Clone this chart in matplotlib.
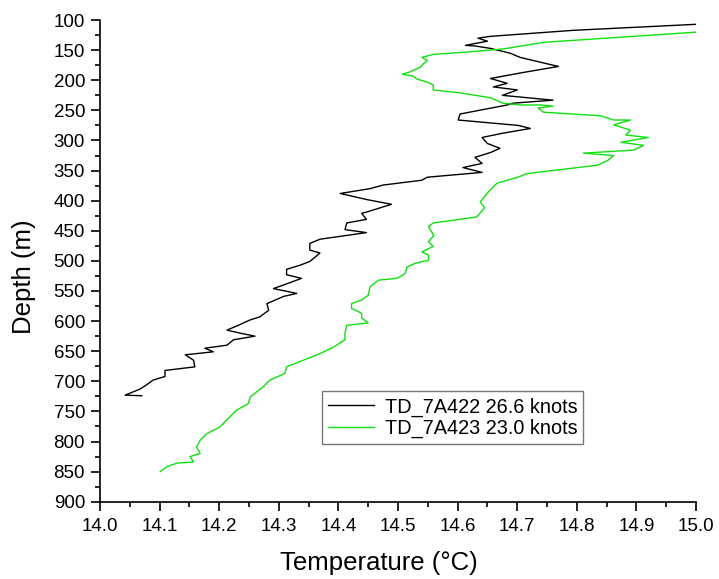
import numpy as np
import matplotlib.pyplot as plt
from matplotlib.ticker import MultipleLocator

plt.rcParams['font.family'] = ['Liberation Sans', 'DejaVu Sans']

# TD_7A422 profile (temperature degC, depth m)
temp_422 = [15.00, 14.794, 14.655, 14.634, 14.650, 14.613, 14.629, 14.655, 14.688, 14.705,
            14.739, 14.769, 14.710, 14.655, 14.683, 14.660, 14.700, 14.675, 14.760, 14.693,
            14.683, 14.604, 14.601, 14.702, 14.722, 14.675, 14.641, 14.650, 14.671, 14.655,
            14.629, 14.641, 14.609, 14.641, 14.549, 14.540, 14.475, 14.453, 14.403, 14.447,
            14.489, 14.450, 14.439, 14.447, 14.414, 14.411, 14.447, 14.369, 14.352, 14.352,
            14.369, 14.352, 14.336, 14.313, 14.313, 14.338, 14.308, 14.291, 14.330, 14.308,
            14.280, 14.283, 14.268, 14.252, 14.232, 14.213, 14.235, 14.260, 14.224, 14.213,
            14.176, 14.190, 14.143, 14.157, 14.159, 14.109, 14.109, 14.089, 14.078, 14.067,
            14.042, 14.070]
depth_422 = [107, 117, 127, 130, 135, 142, 143, 147, 155, 162,
             170, 177, 187, 197, 205, 211, 216, 225, 233, 238,
             241, 256, 266, 275, 280, 288, 295, 305, 313, 320,
             328, 338, 345, 353, 361, 366, 374, 380, 388, 398,
             406, 418, 421, 431, 437, 448, 453, 464, 471, 482,
             487, 501, 507, 514, 523, 529, 540, 546, 554, 559,
             571, 582, 593, 598, 607, 615, 620, 625, 631, 640,
             645, 651, 656, 665, 676, 682, 692, 698, 706, 713,
             723, 724]

# TD_7A423 profile
temp_423 = [15.00, 14.744, 14.676, 14.616, 14.559, 14.540, 14.549, 14.542, 14.538, 14.520,
            14.507, 14.525, 14.532, 14.549, 14.559, 14.559, 14.605, 14.655, 14.676, 14.705,
            14.739, 14.760, 14.735, 14.744, 14.840, 14.862, 14.890, 14.862, 14.890, 14.882,
            14.920, 14.874, 14.912, 14.895, 14.811, 14.862, 14.852, 14.835, 14.716, 14.701,
            14.666, 14.651, 14.638, 14.645, 14.632, 14.559, 14.551, 14.560, 14.551, 14.559,
            14.540, 14.551, 14.551, 14.529, 14.515, 14.512, 14.498, 14.467, 14.453, 14.450,
            14.439, 14.422, 14.422, 14.439, 14.439, 14.450, 14.414, 14.411, 14.411, 14.392,
            14.369, 14.336, 14.313, 14.310, 14.285, 14.274, 14.252, 14.249, 14.229, 14.218,
            14.201, 14.179, 14.168, 14.162, 14.168, 14.151, 14.157, 14.129, 14.112, 14.101]
depth_423 = [120, 137, 148, 153, 157, 162, 167, 173, 178, 186,
             190, 193, 198, 203, 208, 216, 221, 229, 238, 241,
             241, 243, 246, 253, 259, 266, 266, 274, 283, 291,
             295, 303, 308, 316, 321, 325, 333, 341, 355, 361,
             371, 386, 402, 412, 427, 437, 443, 458, 468, 476,
             485, 490, 499, 504, 510, 521, 529, 532, 543, 557,
             565, 571, 579, 587, 595, 603, 607, 620, 631, 643,
             654, 667, 676, 687, 698, 709, 726, 737, 748, 759,
             776, 787, 798, 809, 820, 825, 834, 836, 842, 850]

labels = ["TD_7A422 26.6 knots", "TD_7A423 23.0 knots"]
xticks = np.arange(14.0, 15.01, 0.1)

fig = plt.figure(figsize=(7.19, 5.79), dpi=100)
ax = fig.add_axes([0.1391, 0.1335, 0.829, 0.8318])

ax.plot(temp_422, depth_422, color='black', lw=1.0, label=labels[0])
ax.plot(temp_423, depth_423, color='#10e010', lw=1.0, label=labels[1])

ax.set_xlim(14.0, 15.0)
ax.set_ylim(900, 100)
ax.set_xticks(xticks)
ax.set_xticklabels([f"{v:.1f}" for v in xticks])
ax.xaxis.set_minor_locator(MultipleLocator(0.05))
ax.yaxis.set_major_locator(MultipleLocator(50))
ax.yaxis.set_minor_locator(MultipleLocator(25))

# origin-style axes: left and bottom only, ticks outward
for s in ['top', 'right']:
    ax.spines[s].set_visible(False)
for s in ['left', 'bottom']:
    ax.spines[s].set_linewidth(1.2)

ax.tick_params(which='major', direction='out', length=6.5, width=1.2, labelsize=13.5)
ax.tick_params(which='minor', direction='out', length=3.5, width=1.2)
ax.tick_params(axis='y', which='major', pad=4.3)
ax.tick_params(axis='x', which='major', pad=5.5)

ax.set_xlabel("Temperature (°C)", fontsize=18.5)
ax.set_ylabel("Depth (m)", fontsize=18.5)
ax.xaxis.set_label_coords(0.468, -0.127)
ax.xaxis.label.set_va('center')
ax.yaxis.set_label_coords(-0.1275, 0.4666)
ax.yaxis.label.set_va('center')

leg = ax.legend(loc='upper left', bbox_to_anchor=(0.373, 0.229), fontsize=14.3,
                frameon=True, fancybox=False, edgecolor='#555555', handlelength=2.3,
                handletextpad=0.55, borderpad=0.3, labelspacing=0.12, borderaxespad=0)
leg.get_frame().set_linewidth(1.0)

plt.savefig("out.png", dpi=100)
